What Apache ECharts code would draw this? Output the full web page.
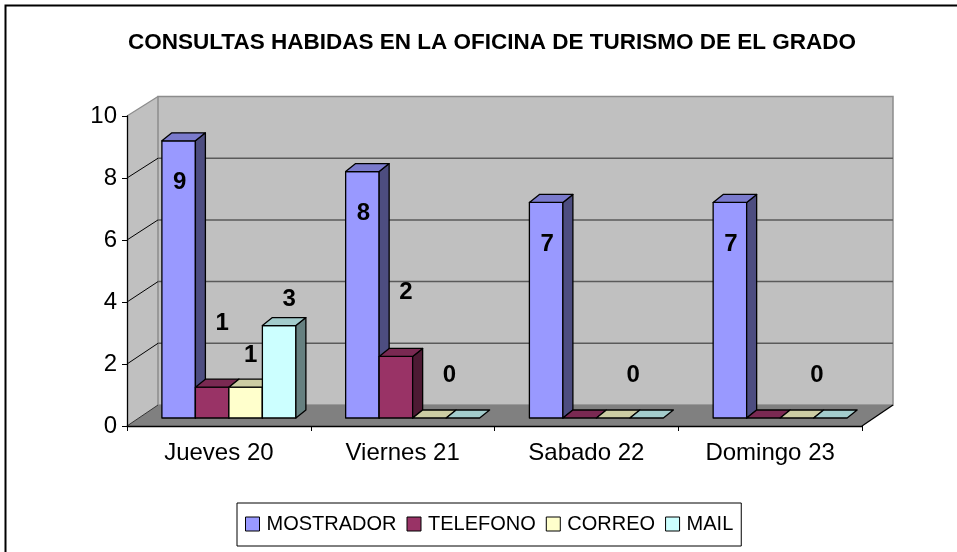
<!DOCTYPE html>
<html><head><meta charset="utf-8">
<script src="https://cdn.jsdelivr.net/npm/echarts@6/dist/echarts.min.js"></script>
<style>html,body{margin:0;padding:0;background:#fff}#c{width:957px;height:552px}</style>
</head><body><div id="c"></div>
<script>
// ---- data ----
const chartTitle = 'CONSULTAS HABIDAS EN LA OFICINA DE TURISMO DE EL GRADO';
const categories = ['Jueves 20', 'Viernes 21', 'Sabado 22', 'Domingo 23'];
const seriesNames = ['MOSTRADOR', 'TELEFONO', 'CORREO', 'MAIL'];
const mostrador = [9, 8, 7, 7];
const telefono = [1, 2, 0, 0];
const correo = [1, 0, 0, 0];
const mail = [3, 0, 0, 0];
const yMin = 0, yMax = 10, yStep = 2;

// ---- style ----
const FONT = '"Liberation Sans", Arial, sans-serif';
const PAL = [
  ['#9999FF', '#7A7ACC', '#4D4D80'],
  ['#993366', '#7A2952', '#4D1A33'],
  ['#FFFFCC', '#CCCCA3', '#808066'],
  ['#CCFFFF', '#A3CCCC', '#668080']
];
// label placement per series: [dx, dy from top-front centre], zero label [dx, dy] or null
const LBL = [
  { d: [1, 42], z: null },
  { d: [10, -64], z: null },
  { d: [5, -32], z: [20, -43] },
  { d: [10, -26], z: null }
];
const WALL = [31, -21];
const BAR_OFF = [10, -8];
const BAR_DEPTH = [10, -8];

const allValues = [mostrador, telefono, correo, mail];

function wallsRender(params, api) {
  const cs = params.coordSys;
  const L = cs.x, R = cs.x + cs.width;
  const y0 = api.coord([0, yMin])[1];
  const yT = api.coord([0, yMax])[1];
  const back = (x, y) => [x + WALL[0], y0 + WALL[1] + (y - y0) * 0.995];
  const ch = [];
  ch.push({ type: 'polygon', shape: { points: [[L, yT], back(L, yT), back(L, y0), [L, y0]] },
    style: { fill: '#C0C0C0', stroke: null } });
  ch.push({ type: 'polygon', shape: { points: [back(L, yT), back(R, yT), back(R, y0), back(L, y0)] },
    style: { fill: '#C0C0C0', stroke: '#8C8C8C', lineWidth: 1.5 } });
  for (let v = yMin + yStep; v < yMax; v += yStep) {
    const y = api.coord([0, v])[1];
    ch.push({ type: 'line', shape: { x1: back(L, y)[0], y1: back(L, y)[1], x2: back(R, y)[0], y2: back(R, y)[1] },
      style: { stroke: '#5A5A5A', lineWidth: 1.5 } });
    ch.push({ type: 'line', shape: { x1: L, y1: y, x2: back(L, y)[0], y2: back(L, y)[1] },
      style: { stroke: '#000', lineWidth: 1 } });
  }
  ch.push({ type: 'line', shape: { x1: L, y1: yT, x2: back(L, yT)[0], y2: back(L, yT)[1] },
    style: { stroke: '#8C8C8C', lineWidth: 1.2 } });
  ch.push({ type: 'polygon', shape: { points: [[L, y0], [R, y0], back(R, y0), back(L, y0)] },
    style: { fill: '#808080', stroke: null } });
  ch.push({ type: 'line', shape: { x1: R, y1: y0, x2: back(R, y0)[0], y2: back(R, y0)[1] },
    style: { stroke: '#000', lineWidth: 1.3 } });
  ch.push({ type: 'line', shape: { x1: L, y1: y0, x2: back(L, y0)[0], y2: back(L, y0)[1] },
    style: { stroke: '#333', lineWidth: 1 } });
  return { type: 'group', children: ch };
}

function barRender(si) {
  return function (params, api) {
    const ci = api.value(0), v = api.value(1);
    const base = api.coord([ci, yMin]);
    const topP = api.coord([ci, v]);
    const band = api.size([1, 0])[0];
    const bw = band * 0.1823;
    const x0 = base[0] - band / 2 + band * 0.1355 + si * bw + BAR_OFF[0];
    const x1 = x0 + bw;
    const yb = base[1] + BAR_OFF[1];
    const h = (base[1] - topP[1]) * 0.9935;
    const yt = yb - h;
    const dx = BAR_DEPTH[0], dy = BAR_DEPTH[1];
    const st = { stroke: '#000', lineWidth: 1.3, lineJoin: 'round' };
    const ch = [];
    if (h > 0) {
      ch.push({ type: 'polygon', shape: { points: [[x0, yb], [x1, yb], [x1, yt], [x0, yt]] },
        style: Object.assign({ fill: PAL[si][0] }, st) });
      ch.push({ type: 'polygon', shape: { points: [[x1, yb], [x1 + dx, yb + dy], [x1 + dx, yt + dy], [x1, yt]] },
        style: Object.assign({ fill: PAL[si][2] }, st) });
    }
    ch.push({ type: 'polygon', shape: { points: [[x0, yt], [x1, yt], [x1 + dx, yt + dy], [x0 + dx, yt + dy]] },
      style: Object.assign({ fill: PAL[si][1] }, st) });
    const cx = (x0 + x1) / 2;
    const off = v === 0 ? LBL[si].z : LBL[si].d;
    if (off) {
      ch.push({ type: 'text', style: { text: String(v), x: cx + off[0], y: yt + off[1],
        align: 'center', verticalAlign: 'middle', font: 'bold 24px ' + FONT, fill: '#000' } });
    }
    return { type: 'group', children: ch };
  };
}

const chart = echarts.init(document.getElementById('c'), null, { renderer: 'canvas' });
const series = [{
  type: 'custom', name: 'walls', coordinateSystem: 'cartesian2d', z: 1,
  data: [[0, 0]], renderItem: wallsRender, silent: true
}];
seriesNames.forEach((n, si) => {
  series.push({
    type: 'custom', name: n, coordinateSystem: 'cartesian2d', z: 2,
    itemStyle: { color: PAL[si][0] },
    encode: { x: 0, y: 1 },
    data: categories.map((c, i) => [i, allValues[si][i]]),
    renderItem: barRender(si)
  });
});

chart.setOption({
  animation: false,
  backgroundColor: '#fff',
  title: {
    text: chartTitle, left: 487, top: 26, textAlign: 'center',
    textStyle: { fontFamily: FONT, fontSize: 22.5, fontWeight: 'bold', color: '#000' }
  },
  graphic: [{ type: 'rect', left: 3, top: 3, z: -10, silent: true,
    shape: { width: 1000, height: 600 }, style: { fill: 'none', stroke: '#000', lineWidth: 2 } }],
  legend: {
    data: seriesNames.map((n, i) => ({ name: n, icon: 'rect',
      itemStyle: { color: PAL[i][0], borderColor: '#000', borderWidth: 1 } })),
    left: 237, top: 503, itemWidth: 14, itemHeight: 14, itemGap: 10,
    padding: [11, 8, 12, 8], borderColor: '#000', borderWidth: 1, selectedMode: false,
    textStyle: { fontFamily: FONT, fontSize: 20, color: '#000', padding: [0, 0, 0, 2] }
  },
  grid: { left: 127, right: 95, top: 116, bottom: 126, containLabel: false },
  xAxis: {
    type: 'category', data: categories, z: 5,
    axisLine: { show: true, lineStyle: { color: '#000', width: 1.3 } },
    axisTick: { show: true, length: 5, lineStyle: { color: '#000' } },
    axisLabel: { fontFamily: FONT, fontSize: 24, color: '#000', margin: 15 },
    splitLine: { show: false }
  },
  yAxis: {
    type: 'value', min: yMin, max: yMax, interval: yStep, z: 5,
    axisLine: { show: true, lineStyle: { color: '#000', width: 1.3 } },
    axisTick: { show: true, length: 5, lineStyle: { color: '#000' } },
    axisLabel: { fontFamily: FONT, fontSize: 24, color: '#000', margin: 10 },
    splitLine: { show: false }
  },
  series: series
});
</script>
</body></html>
